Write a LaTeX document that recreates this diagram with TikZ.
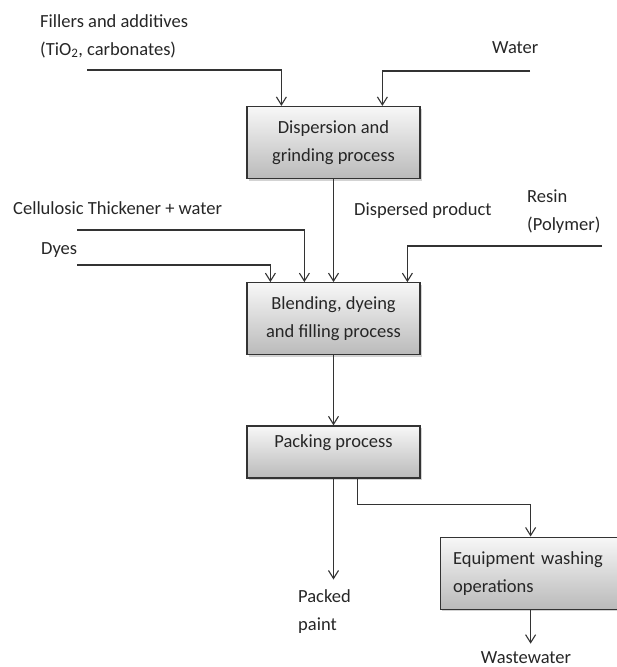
\documentclass[tikz,border=0pt]{standalone}
\usepackage{fontspec}
\setmainfont{Carlito}
\usepackage{tikz}
\usetikzlibrary{shapes,arrows.meta,positioning,shadows}
\tikzstyle{block} = [draw=black!80, line width=1.2pt, rectangle,
    top color=black!3, bottom color=black!27,
    drop shadow={opacity=0.35, shadow xshift=2pt, shadow yshift=-2pt},
    minimum height=72pt, minimum width=173pt, align=center, text=black!85]
\tikzstyle{input} = [coordinate]
\tikzstyle{txt} = [anchor=west, align=left, inner sep=0pt, text=black!85]
\tikzstyle{flow} = [->, line width=1.1pt, draw=black!80]

\begin{document}
\begin{tikzpicture}[x=1pt, y=-1pt, node distance=2cm,
    >={Straight Barb[length=8pt,width=10pt]},
    font=\fontsize{18.5}{28}\selectfont]
    \path [use as bounding box, clip] (0,0) rectangle (617,667);
    % We start by placing the blocks
    \node [block] (disp) at (333.5,142.5) {Dispersion and\\grinding process};
    \node [block, below=103pt of disp] (blend) {Blending, dyeing\\and filling process};
    \node [block, below=70pt of blend, minimum height=52pt,
        inner ysep=4pt, text height=18pt, text depth=26pt] (pack) {Packing process};
    \node [block, below right=58pt and 19pt of pack, minimum width=200pt,
        align=left, text width=175pt, inner xsep=13pt] (wash) {Equipment washing\\operations};
    % Inputs and outputs
    \node [txt] (fillers) at (40,36) {Fillers and additives\\(TiO\textsubscript{2}, carbonates)};
    \node [txt] (water) at (492,48) {Water};
    \node [txt] (cellu) at (13,208) {Cellulosic Thickener + water};
    \node [txt] (dyes) at (41,250) {Dyes};
    \node [txt] (dprod) at (354,211) {Dispersed product};
    \node [txt] (resin) at (527,212) {Resin\\(Polymer)};
    \node [txt] (paint) at (298,612) {Packed\\paint};
    \node [txt, anchor=center] (waste) at (526,658) {Wastewater};
    \node [input] (fillin) at (87,70) {};
    \node [input] (waterin) at (530,71) {};
    \node [input] (celluin) at (77,230) {};
    \node [input] (dyesin) at (77,265) {};
    \node [input] (resinin) at (602,246) {};
    \node [input, below=101pt of pack] (paintout) {};
    \node [input, below=34pt of wash.south west, xshift=91pt] (wasteout) {};
    % We draw the feeds into the blocks
    \draw [flow] (fillin) -| ([xshift=35pt]disp.north west);
    \draw [flow] (waterin) -| ([xshift=136pt]disp.north west);
    \draw [flow] (disp) -- (blend);
    \draw [flow] (celluin) -| ([xshift=58pt]blend.north west);
    \draw [flow] (dyesin) -| ([xshift=24pt]blend.north west);
    \draw [flow] (resinin) -| ([xshift=161pt]blend.north west);
    \draw [flow] (blend) -- (pack);
    \draw [flow] (pack) -- (paintout);
    \draw [flow] ([xshift=111pt]pack.south west) -- ++(0,26) -| ([xshift=91pt]wash.north west);
    \draw [flow] ([xshift=91pt]wash.south west) -- (wasteout);
\end{tikzpicture}
\end{document}
